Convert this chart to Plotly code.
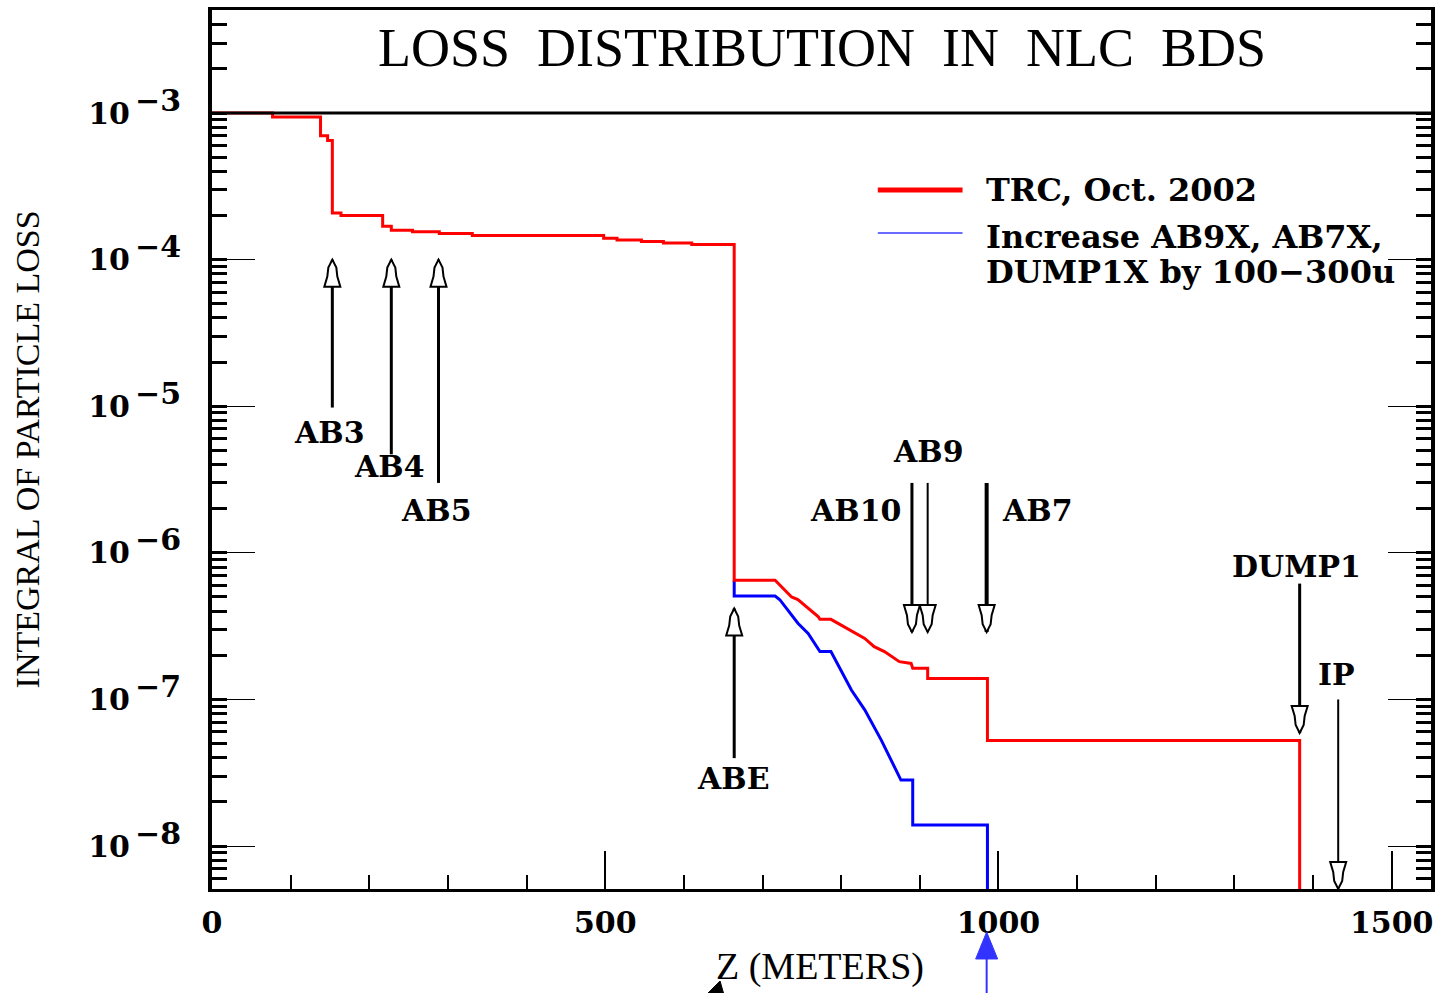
import numpy as np
import plotly.graph_objects as go

# Integrated particle loss along the beam delivery system (z in metres)
trc_z = [0, 77, 77, 138, 138, 147, 147, 153, 153, 164, 164, 217, 217, 228, 228,
         255, 255, 289, 289, 331, 331, 498, 498, 515, 515, 546, 546, 574, 574,
         610, 610, 664, 664, 716, 737, 745, 771, 773, 787, 804, 830, 842, 855,
         874, 889, 891, 910, 910, 986, 986, 1383, 1383]
trc_loss = [1.0e-3, 1.0e-3, 9.4e-4, 9.4e-4, 7.0e-4, 7.0e-4, 6.5e-4, 6.5e-4, 2.08e-4,
            2.08e-4, 2.0e-4, 2.0e-4, 1.69e-4, 1.69e-4, 1.59e-4, 1.59e-4, 1.55e-4,
            1.55e-4, 1.51e-4, 1.51e-4, 1.46e-4, 1.46e-4, 1.40e-4, 1.40e-4, 1.36e-4,
            1.36e-4, 1.33e-4, 1.33e-4, 1.30e-4, 1.30e-4, 1.27e-4, 1.27e-4, 6.5e-7,
            6.5e-7, 5.0e-7, 4.8e-7, 3.66e-7, 3.52e-7, 3.52e-7, 3.13e-7, 2.61e-7,
            2.29e-7, 2.12e-7, 1.81e-7, 1.76e-7, 1.63e-7, 1.63e-7, 1.39e-7, 1.39e-7,
            5.25e-8, 5.25e-8, 1.0e-9]

inc_z = [664, 664, 716, 722, 745, 758, 773, 787, 813, 830, 851, 876, 891, 891, 986, 986]
inc_loss = [6.5e-7, 5.07e-7, 5.07e-7, 4.79e-7, 3.31e-7, 2.82e-7, 2.12e-7, 2.12e-7,
            1.16e-7, 8.5e-8, 5.28e-8, 2.82e-8, 2.82e-8, 1.39e-8, 1.39e-8, 1.0e-9]

# Collimator / device markers
mark_names = ["AB3", "AB4", "AB5", "ABE", "AB10", "AB9", "AB7", "DUMP1", "IP"]
mark_z = [153, 228, 288, 664, 890, 910, 985, 1383, 1432]
mark_tip = [1.0e-4, 1.0e-4, 1.0e-4, 4.17e-7, 2.88e-7, 2.88e-7, 2.88e-7, 5.9e-8, 5.1e-9]
mark_tail = [9.8e-6, 4.7e-6, 3.0e-6, 3.98e-8, 3.0e-6, 3.0e-6, 3.0e-6, 6.17e-7, 1.0e-7]
mark_width = [3, 3, 3, 3, 3, 2, 4, 3, 2]
label_z = [150, 226, 285, 663, 878, 911, 1002, 1379, 1430]
label_loss = [6.6e-6, 3.9e-6, 1.95e-6, 2.9e-8, 1.95e-6, 4.9e-6, 1.95e-6, 8.1e-7, 1.48e-7]
label_anchor = ["center", "center", "center", "center", "right", "center", "left",
                "center", "center"]

x_ticks = [0, 500, 1000, 1500]
y_exponents = [3, 4, 5, 6, 7, 8]

LABEL_FONT = dict(family="DejaVu Serif", size=30, color="black", weight="bold")

fig = go.Figure()

fig.add_trace(go.Scatter(x=inc_z, y=inc_loss, mode="lines",
                         line=dict(color="#0000ff", width=3), showlegend=False))
fig.add_trace(go.Scatter(x=trc_z, y=trc_loss, mode="lines",
                         line=dict(color="#ff0000", width=3), showlegend=False))

up_head = "M0,0 L-4,-8 L-5,-17 L-8,-27 L8,-27 L5,-17 L4,-8 Z"
down_head = "M0,0 L-4,8 L-5,17 L-8,27 L8,27 L5,17 L4,8 Z"

shapes = []
annotations = []
for name, z, tip, tail, w, lz, ly, anc in zip(mark_names, mark_z, mark_tip, mark_tail,
                                               mark_width, label_z, label_loss, label_anchor):
    fig.add_trace(go.Scatter(x=[z, z], y=[tail, tip], mode="lines",
                             line=dict(color="black", width=w), showlegend=False,
                             hoverinfo="skip"))
    shapes.append(dict(type="path", xref="x", yref="y", xsizemode="pixel",
                       ysizemode="pixel", xanchor=z, yanchor=tip,
                       path=up_head if tip > tail else down_head,
                       fillcolor="white", line=dict(color="black", width=2),
                       layer="above"))
    annotations.append(dict(x=lz, y=np.log10(ly), xref="x", yref="y", text=name,
                            showarrow=False, xanchor=anc, yanchor="middle",
                            font=LABEL_FONT))

# decade exponents, set next to the "10" tick labels
for k in y_exponents:
    annotations.append(dict(x=-0.0646, y=-k, xref="paper", yref="y", text=f"−{k}",
                            showarrow=False, xanchor="left", yanchor="middle",
                            yshift=13, font=LABEL_FONT))

# title box separator
shapes.append(dict(type="line", xref="paper", yref="y", x0=0, x1=1, y0=1e-3, y1=1e-3,
                   line=dict(color="black", width=3)))

# legend samples
shapes.append(dict(type="line", xref="paper", yref="paper", x0=0.5462, x1=0.6157,
                   y0=0.7952, y1=0.7952, line=dict(color="#ff0000", width=5)))
shapes.append(dict(type="line", xref="paper", yref="paper", x0=0.5462, x1=0.6157,
                   y0=0.7463, y1=0.7463, line=dict(color="#3a3aff", width=1.5)))
LEGEND_FONT = dict(LABEL_FONT, size=32)
annotations.append(dict(x=0.6337, y=0.7952, xref="paper", yref="paper",
                        text="TRC, Oct. 2002", showarrow=False, xanchor="left",
                        yanchor="middle", font=LEGEND_FONT))
annotations.append(dict(x=0.6337, y=0.7423, xref="paper", yref="paper",
                        text="Increase AB9X, AB7X,", showarrow=False, xanchor="left",
                        yanchor="middle", font=LEGEND_FONT))
annotations.append(dict(x=0.6337, y=0.7014, xref="paper", yref="paper",
                        text="DUMP1X by 100−300u", showarrow=False, xanchor="left",
                        yanchor="middle", font=LEGEND_FONT))

# pointers below the axis
shapes.append(dict(type="line", xref="x", yref="paper", x0=985, x1=985,
                   y0=-0.075, y1=-0.14, line=dict(color="#3333ff", width=2)))
shapes.append(dict(type="path", xref="x", yref="paper", xsizemode="pixel",
                   ysizemode="pixel", xanchor=985, yanchor=-0.0489,
                   path="M0,0 L-11,-27 L11,-27 Z", fillcolor="#3333ff",
                   line=dict(color="#3333ff", width=1)))
shapes.append(dict(type="path", xref="x", yref="paper", xsizemode="pixel",
                   ysizemode="pixel", xanchor=646, yanchor=-0.1047,
                   path="M0,0 L-14,-14 L4,-14 Z", fillcolor="black",
                   line=dict(color="black", width=1)))

# chart title and axis titles
annotations.append(dict(x=0.5, y=0.957, xref="paper", yref="paper",
                        text="LOSS\u2002DISTRIBUTION\u2002IN\u2002NLC\u2002BDS",
                        showarrow=False, xanchor="center", yanchor="middle",
                        font=dict(family="Liberation Serif", size=54, color="black")))
annotations.append(dict(x=0.4988, y=-0.0876, xref="paper", yref="paper",
                        text="Z (METERS)", showarrow=False, xanchor="center",
                        yanchor="middle",
                        font=dict(family="Liberation Serif", size=38, color="black")))
annotations.append(dict(x=-0.151, y=0.5, xref="paper", yref="paper",
                        text="INTEGRAL OF PARTICLE LOSS", showarrow=False,
                        textangle=-90, xanchor="center", yanchor="middle",
                        font=dict(family="Liberation Serif", size=34, color="black")))

fig.update_layout(
    width=1439, height=993,
    margin=dict(l=212, r=4, t=10, b=104),
    paper_bgcolor="white", plot_bgcolor="white",
    showlegend=False,
    shapes=shapes, annotations=annotations,
    xaxis=dict(
        range=[0, 1550], tickmode="array", tickvals=x_ticks,
        ticktext=[str(v) for v in x_ticks],
        ticks="inside", ticklen=38, tickwidth=2, tickcolor="black",
        showline=True, linewidth=3, linecolor="black", mirror=True,
        showgrid=False, zeroline=False, tickfont=LABEL_FONT,
        ticklabelstandoff=5,
        minor=dict(dtick=100, ticks="inside", ticklen=14, tickwidth=2,
                   tickcolor="black", showgrid=False),
    ),
    yaxis=dict(
        type="log", range=[-8.293, -2.297], tickmode="array",
        tickvals=[10.0 ** -k for k in y_exponents],
        ticktext=["10" for _ in y_exponents],
        ticks="inside", ticklen=43, tickwidth=1, tickcolor="black",
        showline=True, linewidth=4, linecolor="black", mirror="allticks",
        showgrid=False, zeroline=False, tickfont=LABEL_FONT,
        ticklabelstandoff=72,
        minor=dict(dtick="D1", ticks="inside", ticklen=15, tickwidth=3,
                   tickcolor="black", showgrid=False),
    ),
)

fig.write_html("out.html")
